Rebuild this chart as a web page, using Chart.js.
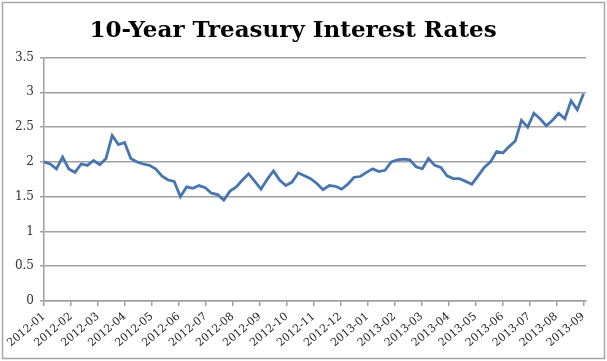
<!DOCTYPE html>
<html>
<head>
<meta charset="utf-8">
<script src="https://cdn.jsdelivr.net/npm/chart.js@4"></script>
<style>
  html, body { margin: 0; padding: 0; background: #fff; }
  #wrap { position: absolute; left: 0; top: 0; width: 607px; height: 361px; }
</style>
</head>
<body>
<div id="wrap"><canvas id="grafico-juros"></canvas></div>
<script>
// month tick labels, one per month from 2012-01 to 2013-09
var meses = ["2012-01", "2012-02", "2012-03", "2012-04", "2012-05", "2012-06", "2012-07",
    "2012-08", "2012-09", "2012-10", "2012-11", "2012-12", "2013-01", "2013-02", "2013-03",
    "2013-04", "2013-05", "2013-06", "2013-07", "2013-08", "2013-09"];

// y axis tick labels
var rotulosY = ["0", "0.5", "1", "1.5", "2", "2.5", "3", "3.5"];

// weekly 10-year yield (%), first week of Jan 2012 to first week of Sep 2013
var taxas = [2.00, 1.97, 1.90, 2.07, 1.90, 1.85, 1.97, 1.95, 2.02, 1.96,
    2.05, 2.38, 2.25, 2.28, 2.05, 2.00, 1.97, 1.95, 1.90, 1.80,
    1.74, 1.72, 1.50, 1.64, 1.62, 1.66, 1.63, 1.55, 1.53, 1.45,
    1.58, 1.64, 1.74, 1.83, 1.72, 1.61, 1.75, 1.87, 1.74, 1.66,
    1.71, 1.84, 1.80, 1.76, 1.69, 1.60, 1.66, 1.65, 1.61, 1.68,
    1.78, 1.79, 1.85, 1.90, 1.86, 1.88, 2.00, 2.03, 2.04, 2.03,
    1.93, 1.90, 2.05, 1.95, 1.92, 1.80, 1.76, 1.76, 1.72, 1.68,
    1.80, 1.92, 2.00, 2.15, 2.13, 2.22, 2.30, 2.60, 2.50, 2.70,
    2.62, 2.52, 2.60, 2.70, 2.62, 2.88, 2.75, 2.98];

var pontos = taxas.map(function (v, i) {
    return { x: i * 7 / 30.44, y: v };
});

var moldura = {
    id: 'moldura',
    beforeDraw: function (chart) {
        var ctx = chart.ctx;
        ctx.save();
        ctx.fillStyle = '#fff';
        ctx.fillRect(0, 0, chart.width, chart.height);
        ctx.strokeStyle = '#a6a6a6';
        ctx.lineWidth = 1.5;
        ctx.strokeRect(2.5, 2.5, chart.width - 5, chart.height - 5);
        ctx.restore();
    }
};

var referencia = document.querySelector("#grafico-juros").getContext("2d");

var grafico = new Chart(referencia, {
    type: 'line',
    data: {
        datasets: [{
            label: "10-Year Treasury",
            data: pontos,
            borderColor: "#4675b0",
            backgroundColor: "transparent",
            borderWidth: 2.8,
            pointRadius: 0,
            tension: 0
        }]
    },
    options: {
        responsive: true,
        maintainAspectRatio: false,
        animation: false,
        layout: { padding: { left: 0, right: 21, top: 0, bottom: 0 } },
        plugins: {
            legend: { display: false },
            tooltip: { enabled: false },
            title: {
                display: true,
                text: "10-Year Treasury Interest Rates",
                color: "#000",
                font: { family: "DejaVu Serif", size: 23, weight: "bold" },
                padding: { top: 17, bottom: 13 }
            }
        },
        scales: {
            x: {
                type: 'linear',
                min: 0,
                max: 20.1,
                afterBuildTicks: function (scale) {
                    scale.ticks = meses.map(function (m, i) { return { value: i }; });
                },
                afterFit: function (scale) { scale.height = 60; },
                ticks: {
                    autoSkip: false,
                    minRotation: 40,
                    maxRotation: 40,
                    color: "#222",
                    font: { family: "DejaVu Serif", size: 11 },
                    padding: 4,
                    callback: function (v) { return meses[Math.round(v)]; }
                },
                grid: {
                    drawOnChartArea: false,
                    drawTicks: true,
                    tickLength: 5,
                    color: "#a0a0a0",
                    lineWidth: 1.5
                },
                border: { color: "#a0a0a0", width: 1.5 }
            },
            y: {
                min: 0,
                max: 3.5,
                afterFit: function (scale) { scale.width = 44; },
                ticks: {
                    stepSize: 0.5,
                    color: "#333",
                    font: { family: "DejaVu Serif", size: 12 },
                    padding: 6,
                    callback: function (v) { return rotulosY[Math.round(v * 2)]; }
                },
                grid: {
                    color: "#a0a0a0",
                    lineWidth: 1.5,
                    tickLength: 4
                },
                border: { color: "#a0a0a0", width: 1.5 }
            }
        }
    },
    plugins: [moldura]
});
</script>
</body>
</html>
